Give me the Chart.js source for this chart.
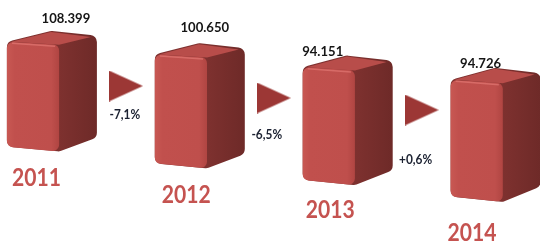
<!DOCTYPE html>
<html>
<head>
<meta charset="utf-8">
<script src="https://cdn.jsdelivr.net/npm/chart.js@4"></script>
<style>
  html, body { margin: 0; padding: 0; background: #fff; overflow: hidden; }
  #wrap { width: 540px; height: 241px; }
</style>
</head>
<body>
<div id="wrap"><canvas id="boxChart"></canvas></div>
<script>
const years = ['2011', '2012', '2013', '2014'];
const values = [108399, 100650, 94151, 94726];
const changes = ['-7,1%', '-6,5%', '+0,6%'];

// staggered layout (hidden y axis runs top -> bottom)
const boxTop = i => 30.9 + 12.3 * i;
const boxBottom = i => 151.5 + 16.8 * i;
const arrowY = k => 86 + 12 * k;
// small text nudges [dx, dy]
const valueNudge = [[14, -12], [5, -16], [-25, -3.5], [-15, -4]];
const yearNudge = [[5, 26.5], [7, 26.7], [3, 25], [-3, 31]];
const changeNudge = [[-1, 29], [-7, 37], [-6, 50]];

const fmt = v => v.toLocaleString('de-DE');

// arrow image used as point style
const arrow = document.createElement('canvas');
arrow.width = 34; arrow.height = 31;
const actx = arrow.getContext('2d');
actx.fillStyle = '#9c3735';
actx.beginPath();
actx.moveTo(0, 0); actx.lineTo(34, 15.5); actx.lineTo(0, 31);
actx.closePath(); actx.fill();

function roundPoly(ctx, pts, r) {
  const n = pts.length;
  const sx = (pts[n - 1][0] + pts[0][0]) / 2, sy = (pts[n - 1][1] + pts[0][1]) / 2;
  ctx.beginPath();
  ctx.moveTo(sx, sy);
  for (let i = 0; i < n; i++) {
    const p = pts[i], q = pts[(i + 1) % n];
    ctx.arcTo(p[0], p[1], q[0], q[1], r);
  }
  ctx.closePath();
}

function poly(ctx, pts) {
  ctx.beginPath();
  pts.forEach((p, i) => i ? ctx.lineTo(p[0], p[1]) : ctx.moveTo(p[0], p[1]));
  ctx.closePath();
}

function drawBox(ctx, L, R, T, B) {
  const w = R - L, h = B - T, fx = L + 0.58 * w;
  const apex = [L + 0.49 * w, T];
  // whole silhouette in side colour
  let g = ctx.createLinearGradient(fx, 0, R, 0);
  g.addColorStop(0, '#7e312f');
  g.addColorStop(1, '#6e2a28');
  ctx.fillStyle = g;
  roundPoly(ctx, [[L, T + 0.09 * h], apex, [R, T + 0.04 * h], [R, B - 0.115 * h], [fx, B], [L, B - 0.04 * h]], 7);
  ctx.fill();
  // top face
  ctx.fillStyle = '#b84d4a';
  poly(ctx, [[L + 4, T + 0.09 * h], [apex[0], apex[1] + 1], [R - 6, T + 0.05 * h], [fx, T + 0.115 * h]]);
  ctx.fill();
  // front face
  g = ctx.createLinearGradient(L, 0, fx, 0);
  g.addColorStop(0, '#c85853');
  g.addColorStop(0.15, '#c1504d');
  g.addColorStop(0.85, '#bf4f4c');
  g.addColorStop(1, '#b04542');
  ctx.fillStyle = g;
  roundPoly(ctx, [[L, T + 0.09 * h], [fx, T + 0.115 * h], [fx, B], [L, B - 0.04 * h]], 6);
  ctx.fill();
  // highlight along the top edge
  ctx.strokeStyle = 'rgba(225,120,115,0.7)';
  ctx.lineWidth = 1.5;
  ctx.beginPath();
  ctx.moveTo(L + 5, T + 0.09 * h + 1.5);
  ctx.lineTo(fx - 4, T + 0.115 * h + 1.5);
  ctx.stroke();
}

function squeezedText(ctx, text, x, y, sx) {
  ctx.save();
  ctx.translate(x, y);
  ctx.scale(sx, 1);
  ctx.fillText(text, 0, 0);
  ctx.restore();
}

const boxPlugin = {
  id: 'boxes',
  afterDatasetsDraw(chart) {
    const ctx = chart.ctx;
    const xs = chart.scales.x, ys = chart.scales.y;
    const bars = chart.getDatasetMeta(0).data;
    ctx.save();
    bars.forEach((bar, i) => {
      const p = bar.getProps(['x', 'y', 'base', 'width'], true);
      const L = p.x - p.width / 2, R = p.x + p.width / 2;
      const T = Math.min(p.y, p.base), B = Math.max(p.y, p.base);
      drawBox(ctx, L, R, T, B);

      ctx.textBaseline = 'middle';
      ctx.fillStyle = '#151515';
      ctx.font = 'bold 13.5px Lato';
      ctx.textAlign = 'center';
      squeezedText(ctx, fmt(values[i]), p.x + valueNudge[i][0], T + valueNudge[i][1], 0.97);

      ctx.fillStyle = '#c55350';
      ctx.font = 'bold 24px Lato';
      ctx.textAlign = 'left';
      squeezedText(ctx, years[i], L + yearNudge[i][0], B + yearNudge[i][1], 0.88);
    });
    changes.forEach((c, k) => {
      const x = xs.getPixelForValue(k + 0.5);
      const y = ys.getPixelForValue(arrowY(k));
      ctx.fillStyle = '#1b2131';
      ctx.font = 'bold 12.5px Lato';
      ctx.textAlign = 'center';
      ctx.textBaseline = 'middle';
      squeezedText(ctx, c, x + changeNudge[k][0], y + changeNudge[k][1], 0.95);
    });
    ctx.restore();
  }
};

new Chart(document.getElementById('boxChart'), {
  data: {
    datasets: [{
      type: 'bar',
      label: 'Wert',
      data: years.map((y, i) => ({ x: i, y: [boxTop(i), boxBottom(i)] })),
      backgroundColor: 'rgba(0,0,0,0)',
      borderWidth: 0,
      barThickness: 90
    }, {
      type: 'scatter',
      label: 'Veränderung',
      data: changes.map((c, k) => ({ x: k + 0.5, y: arrowY(k) })),
      pointStyle: arrow,
      pointRadius: 17
    }]
  },
  options: {
    responsive: true,
    maintainAspectRatio: false,
    animation: false,
    layout: { padding: 0, autoPadding: false },
    plugins: { legend: { display: false }, tooltip: { enabled: false } },
    scales: {
      x: { type: 'linear', display: false, offset: false, min: -51.9 / 147.9, max: (540 - 51.9) / 147.9 },
      y: { type: 'linear', display: false, reverse: true, min: 0, max: 241 }
    }
  },
  plugins: [boxPlugin]
});
</script>
</body>
</html>
